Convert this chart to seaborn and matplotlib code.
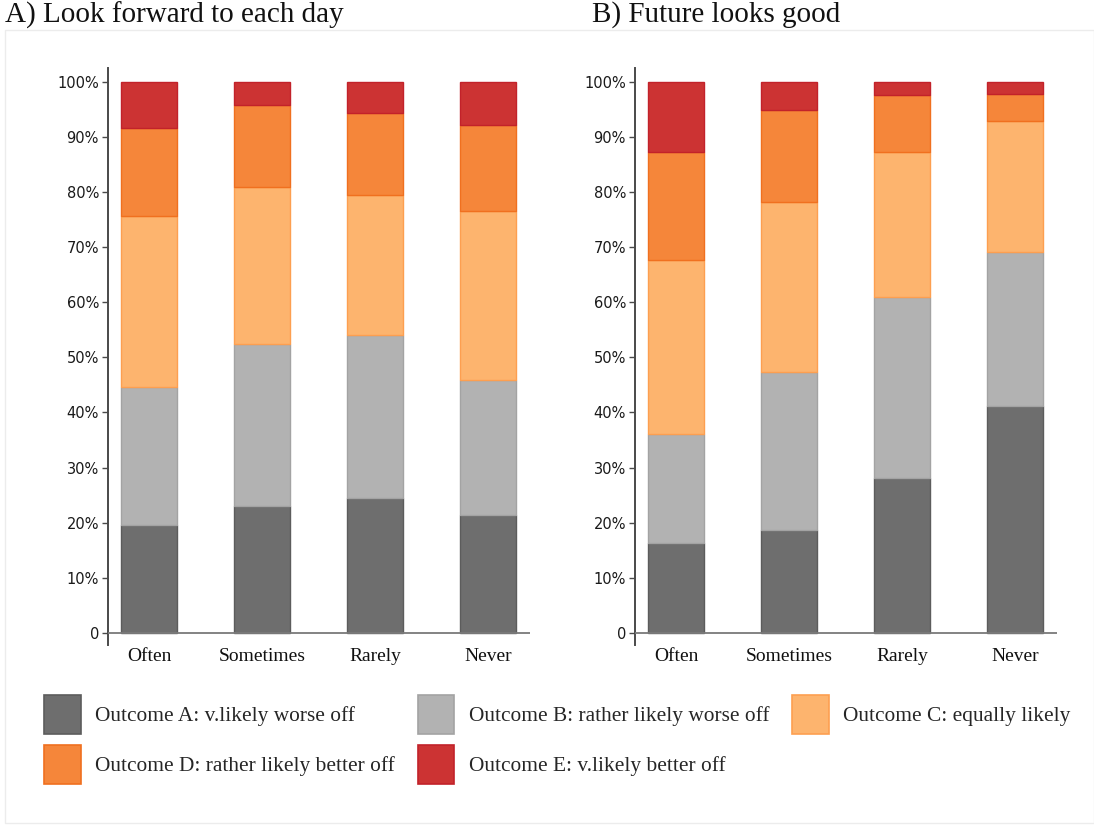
import numpy as np
import pandas as pd
import matplotlib
matplotlib.use("Agg")
import matplotlib.pyplot as plt
import seaborn as sns
from matplotlib.patches import Patch, Rectangle

# ---------------- data ----------------
categories = ["Often", "Sometimes", "Rarely", "Never"]
outcomes = [
    "Outcome A: v.likely worse off",
    "Outcome B: rather likely worse off",
    "Outcome C: equally likely",
    "Outcome D: rather likely better off",
    "Outcome E: v.likely better off",
]
panel_titles = ["A) Look forward to each day", "B) Future looks good"]
y_ticks = [0, 10, 20, 30, 40, 50, 60, 70, 80, 90, 100]
y_tick_labels = ["0", "10%", "20%", "30%", "40%", "50%", "60%", "70%", "80%", "90%", "100%"]

# Panel A: Look forward to each day (percent per segment)
look_A = [19.6, 23.1, 24.4, 21.3]
look_B = [25.1, 29.3, 29.7, 24.6]
look_C = [30.9, 28.5, 25.4, 30.7]
look_D = [16.0, 14.9, 14.9, 15.5]
look_E = [8.4, 4.2, 5.6, 7.9]

# Panel B: Future looks good (percent per segment)
future_A = [16.3, 18.6, 28.1, 41.1]
future_B = [19.8, 28.7, 32.8, 28.1]
future_C = [31.6, 30.8, 26.3, 23.6]
future_D = [19.5, 16.7, 10.4, 5.0]
future_E = [12.8, 5.2, 2.4, 2.2]

panels = [
    [look_A, look_B, look_C, look_D, look_E],
    [future_A, future_B, future_C, future_D, future_E],
]

fill_colors = ["#6e6e6e", "#b2b2b2", "#fdb46e", "#f5863a", "#cc3333"]
edge_colors = ["#5c5c5c", "#a3a3a3", "#fd9f50", "#f0701f", "#c2222a"]

# ---------------- style ----------------
sns.set_style("white")
plt.rcParams["font.family"] = ["Liberation Serif", "DejaVu Serif"]

fig = plt.figure(figsize=(10.94, 8.25), dpi=100)
fig.patch.set_facecolor("white")

# faint outer frame
fig.patches.append(Rectangle((5 / 1094, 2 / 825), 1089 / 1094, 793 / 825,
                             transform=fig.transFigure, fill=False,
                             edgecolor="#ececec", linewidth=1.0))

ax_positions = [
    [108 / 1094, 1 - 645 / 825, 422 / 1094, 577 / 825],
    [635 / 1094, 1 - 645 / 825, 422 / 1094, 577 / 825],
]
title_x = [5 / 1094, 592 / 1094]

for p, series in enumerate(panels):
    ax = fig.add_axes(ax_positions[p])
    bottom = np.zeros(len(categories))
    for vals, fc, ec in zip(series, fill_colors, edge_colors):
        df = pd.DataFrame({"cat": categories, "val": vals})
        sns.barplot(data=df, x="cat", y="val", order=categories, color=fc,
                    saturation=1, edgecolor=ec, linewidth=1.0, width=0.5,
                    errorbar=None, bottom=bottom.copy(), ax=ax)
        bottom = bottom + np.array(vals)

    ax.set_xlim(-0.365, 3.37)
    ax.set_ylim(-2.2, 102.5)
    ax.set_xlabel("")
    ax.set_ylabel("")
    ax.set_facecolor("white")
    for s in ["top", "right", "bottom"]:
        ax.spines[s].set_visible(False)
    ax.spines["left"].set_color("#4a4a4a")
    ax.spines["left"].set_linewidth(1.4)
    ax.axhline(0, color="#7a7a7a", linewidth=1.3, zorder=5)

    ax.set_yticks(y_ticks)
    ax.set_yticklabels(y_tick_labels, family="DejaVu Sans", fontsize=10.5, color="#1a1a1a")
    ax.tick_params(axis="y", left=True, length=4.5, width=1.0, color="#4a4a4a", pad=2)
    ax.set_xticks(range(len(categories)))
    ax.set_xticklabels(categories, fontsize=14, color="#111111")
    ax.tick_params(axis="x", bottom=False, length=0, pad=2)
    ax.grid(False)

    fig.text(title_x[p], 1 - 15 / 825, panel_titles[p], fontsize=21,
             va="center", ha="left", color="#111111")

# legend (column-major order for 3 columns)
handles = [Patch(facecolor=fc, edgecolor=ec, linewidth=1.2, label=lab)
           for fc, ec, lab in zip(fill_colors, edge_colors, outcomes)]
order = [0, 3, 1, 4, 2]
fig.legend([handles[i] for i in order], [outcomes[i] for i in order],
           loc="upper left", bbox_to_anchor=(44 / 1094, 1 - 695 / 825),
           ncol=3, frameon=False, fontsize=15.4, borderpad=0, borderaxespad=0,
           handlelength=1.72, handleheight=2.4, handletextpad=0.68,
           columnspacing=1.05, labelspacing=0.55)

fig.savefig("out.png", dpi=100, facecolor="white")
